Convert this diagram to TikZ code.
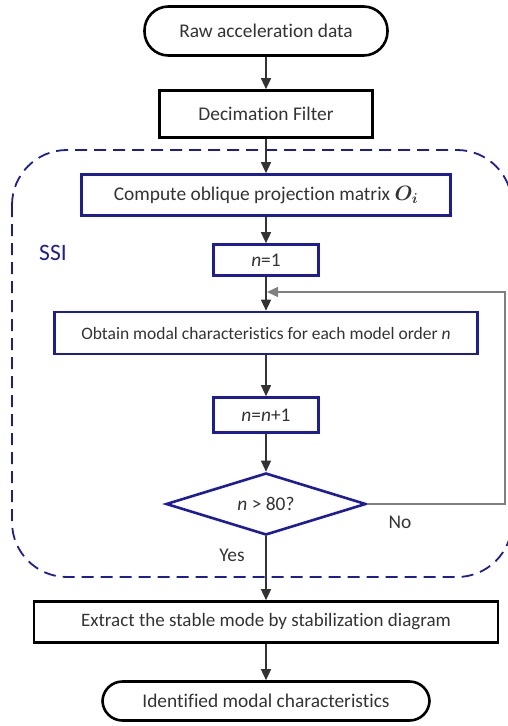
\documentclass[tikz,border=0pt]{standalone}
\usepackage{fontspec}
\setmainfont{Carlito}[Ligatures=NoCommon]
\usepackage{amsmath,bm}
\usetikzlibrary{arrows.meta,shapes.geometric}
\definecolor{ink}{HTML}{333333}
\definecolor{navy}{HTML}{1C1C9C}
\definecolor{loopgray}{HTML}{7F7F7F}
\tikzset{
  txt/.style={text=ink, font=\fontsize{19.4}{22}\selectfont, inner sep=0pt},
  term/.style={txt, draw=black, line width=2.6pt},
  proc/.style={txt, draw=black, line width=2.6pt},
  ssi/.style={txt, draw=navy, line width=2.6pt},
  flow/.style={draw=ink, line width=1.3pt, -{Triangle[length=11pt,width=10pt]}},
  back/.style={draw=loopgray, line width=1.3pt, -{Triangle[length=11pt,width=10pt]}},
  region/.style={draw=navy, line width=1.8pt, dash pattern=on 12pt off 7pt, rounded corners=55pt},
}
\begin{document}
\begin{tikzpicture}[x=1pt,y=-1pt]
  \useasboundingbox (0,0) rectangle (508,726);
  % SSI block
  \draw[region] (12,150) rectangle (512,577);
  \node[text=navy, font=\fontsize{23.5}{26}\selectfont, inner sep=0pt] (ssilab) at (53,253) {SSI};
  % boxes
  \node[term, rounded corners=24pt, minimum width=243pt, minimum height=49pt] (raw) at (266,31) {Raw acceleration data};
  \node[proc, minimum width=213pt, minimum height=47pt] (dec) at (266,114) {Decimation Filter};
  \node[ssi, minimum width=369pt, minimum height=41pt] (comp) at (266,195) {Compute oblique projection matrix $\bm{O}_{\bm{i}}$};
  \node[ssi, minimum width=105pt, minimum height=31pt] (n1) at (266,260) {\textit{n}=1};
  \node[ssi, minimum width=423pt, minimum height=42pt, font=\fontsize{17.5}{20}\selectfont] (obt) at (266,333) {Obtain modal characteristics for each model order \textit{n}};
  \node[ssi, minimum width=105pt, minimum height=35pt] (nn1) at (266,415) {\textit{n}=\textit{n}+1};
  \node[ssi, shape=diamond, aspect=3.1, minimum width=200pt, minimum height=62pt] (dia) at (266,504) {\textit{n} > 80?};
  \node[proc, minimum width=464pt, minimum height=41pt, font=\fontsize{19}{22}\selectfont] (ext) at (266,622) {Extract the stable mode by stabilization diagram};
  \node[term, rounded corners=20pt, minimum width=327pt, minimum height=39pt] (idf) at (266,701) {Identified modal characteristics};
  % labels
  \node[txt] (nolab) at (400,522) {No};
  \node[txt] (yeslab) at (232,555) {Yes};
  % connectors
  \coordinate (join) at (267,292);
  \coordinate (corner) at (505,504);
  \draw[flow] (raw) -- (dec);
  \draw[flow] (dec) -- (comp);
  \draw[flow] (comp) -- (n1);
  \draw[flow] (n1) -- (obt);
  \draw[flow] (obt) -- (nn1);
  \draw[flow] (nn1) -- (dia);
  \draw[flow] (dia) -- (ext);
  \draw[flow] (ext) -- (idf);
  \draw[back] (dia.east) -- (corner) |- (join);
\end{tikzpicture}
\end{document}
